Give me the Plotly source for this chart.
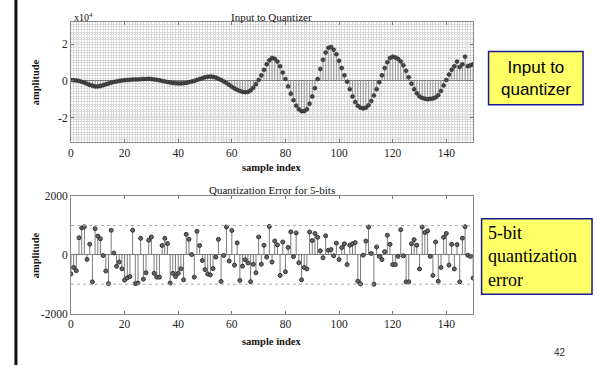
import plotly.graph_objects as go

# ---------------- data ----------------
sample_index = list(range(151))

# Input to quantizer (units of 1e4)
input_signal = [
    0.05, 0.04, 0.02, 0.00, -0.05, -0.10, -0.16, -0.22, -0.27, -0.30,
    -0.30, -0.28, -0.24, -0.19, -0.14, -0.10, -0.06, -0.03, 0.00, 0.02,
    0.04, 0.05, 0.06, 0.07, 0.08, 0.08, 0.09, 0.10, 0.10, 0.11,
    0.10, 0.08, 0.06, 0.03, 0.00, -0.03, -0.06, -0.09, -0.11, -0.13,
    -0.14, -0.14, -0.13, -0.11, -0.08, -0.04, 0.00, 0.05, 0.10, 0.15,
    0.20, 0.23, 0.24, 0.22, 0.18, 0.12, 0.05, -0.03, -0.12, -0.22,
    -0.32, -0.41, -0.49, -0.55, -0.60, -0.62, -0.60, -0.52, -0.38, -0.18,
    0.05, 0.30, 0.60, 0.90, 1.12, 1.25, 1.20, 1.05, 0.80, 0.45,
    0.10, -0.30, -0.70, -1.05, -1.35, -1.55, -1.65, -1.65, -1.55, -1.25,
    -0.85, -0.40, 0.10, 0.65, 1.15, 1.55, 1.80, 1.85, 1.70, 1.45,
    1.10, 0.70, 0.30, -0.05, -0.45, -0.85, -1.15, -1.36, -1.46, -1.50,
    -1.46, -1.33, -1.10, -0.80, -0.45, -0.08, 0.30, 0.70, 1.02, 1.25,
    1.32, 1.28, 1.20, 1.06, 0.85, 0.55, 0.20, -0.15, -0.45, -0.68,
    -0.85, -0.93, -0.97, -1.00, -0.98, -0.96, -0.90, -0.78, -0.55, -0.25,
    0.05, 0.35, 0.60, 0.80, 1.05, 0.75, 0.90, 1.32, 0.80, 0.85,
    0.90,
]

# Quantization error for 5 bits
quant_error = [
    -650, -430, -540, 585, 920, 960, -155, 365, -920, 895,
    640, 550, -20, -550, -980, 840, 65, -390, -245, -475,
    -860, -785, -740, 840, -980, -960, 565, -830, -610, 500,
    610, -630, -760, -760, 320, 565, 385, -960, -630, -740,
    -630, -475, -850, 700, 530, 10, -760, 805, 320, -190,
    -500, -650, -685, -465, -75, 530, -905, -20, 950, -210,
    830, -350, 410, -870, -385, -165, -275, -915, -320, -610,
    610, -320, 330, -75, 970, -245, 475, 340, -700, 440,
    -575, 255, 785, -55, 750, -270, -850, -430, -480, 780,
    490, 730, 600, 140, -100, 650, 160, 180, -30, 400,
    -160, 250, 380, -330, 330, 380, 420, -900, -990, -10,
    470, 950, 50, -1000, 270, -50, -160, 110, 670, 360,
    -330, -330, -50, 860, -30, -920, -920, 380, 520, 330,
    -480, 950, 760, 820, -50, -700, 440, -900, -430, 600,
    730, -350, 360, -480, 350, -920, 570, 960, -10, -50,
    -790,
]

x_ticks = [0, 20, 40, 60, 80, 100, 120, 140]
top_y_ticks = [-2, 0, 2]
top_y_labels = ["-2", "0", "2"]
bot_y_ticks = [-2000, 0, 2000]
bot_y_labels = ["-2000", "0", "2000"]

# ---------------- figure ----------------
W, H = 597, 365
SERIF = "Liberation Serif"


def stems(xs, ys):
    sx, sy = [], []
    for a, b in zip(xs, ys):
        sx += [a, a, None]
        sy += [0, b, None]
    return sx, sy


fig = go.Figure()

sx, sy = stems(sample_index, input_signal)
fig.add_trace(go.Scatter(x=sx, y=sy, mode="lines", line=dict(color="#9a9a9a", width=1),
                         xaxis="x", yaxis="y", hoverinfo="skip"))
fig.add_trace(go.Scatter(x=sample_index, y=input_signal, mode="markers",
                         marker=dict(size=4, color="#444", line=dict(color="#222", width=0.5)),
                         xaxis="x", yaxis="y"))

sx2, sy2 = stems(sample_index, quant_error)
fig.add_trace(go.Scatter(x=sx2, y=sy2, mode="lines", line=dict(color="#7a7a7a", width=1),
                         xaxis="x2", yaxis="y2", hoverinfo="skip"))
fig.add_trace(go.Scatter(x=sample_index, y=quant_error, mode="markers",
                         marker=dict(size=4, color="#666", line=dict(color="#333", width=1)),
                         xaxis="x2", yaxis="y2"))

xdom = [68.3 / W, 472.5 / W]
top_dom = [1 - 141 / H, 1 - 16.7 / H]
bot_dom = [1 - 318 / H, 1 - 196.7 / H]

tickfont = dict(family=SERIF, size=11.5, color="#222")
common_x = dict(domain=xdom, range=[0, 150], tickvals=x_ticks, ticks="inside", ticklen=3,
                tickcolor="#777", showline=True, linecolor="#888", linewidth=1, mirror="ticks",
                tickfont=tickfont, zeroline=False, fixedrange=True)

fig.update_layout(
    width=W, height=H, margin=dict(l=0, r=0, t=0, b=0),
    paper_bgcolor="white", plot_bgcolor="white", showlegend=False,
    xaxis=dict(**common_x, anchor="y", showgrid=True, gridcolor="#dadada", gridwidth=1,
               minor=dict(dtick=1, tick0=0, showgrid=True, gridcolor="#dadada", gridwidth=1)),
    yaxis=dict(domain=top_dom, range=[-3.35, 3.2], tickvals=top_y_ticks, ticktext=top_y_labels,
               ticks="inside", ticklen=3, tickcolor="#777", showline=True, linecolor="#888",
               mirror="ticks", tickfont=tickfont, anchor="x",
               showgrid=True, gridcolor="#dadada",
               minor=dict(dtick=0.14, tick0=0, showgrid=True, gridcolor="#dadada", gridwidth=1),
               zeroline=True, zerolinecolor="#777", zerolinewidth=1, fixedrange=True),
    xaxis2=dict(**common_x, anchor="y2", showgrid=False),
    yaxis2=dict(domain=bot_dom, range=[-2000, 2000], tickvals=bot_y_ticks, ticktext=bot_y_labels,
                ticks="inside", ticklen=3, tickcolor="#777", showline=True, linecolor="#888",
                mirror="ticks", tickfont=tickfont, anchor="x2", showgrid=False,
                zeroline=True, zerolinecolor="#777", zerolinewidth=1, fixedrange=True),
)

# dotted +-1000 reference lines in the error plot
for lvl in (-1000, 1000):
    fig.add_shape(type="line", xref="x2", yref="y2", x0=0, x1=150, y0=lvl, y1=lvl,
                  line=dict(color="#aaaaaa", width=1, dash="dot"))

# left black bar of the slide
fig.add_shape(type="rect", xref="paper", yref="paper", x0=11.5 / W, x1=14.5 / W,
              y0=-0.05, y1=1.05, fillcolor="#111", line=dict(width=0))

# yellow callout boxes
fig.add_shape(type="rect", xref="paper", yref="paper", x0=488 / W, x1=583 / W,
              y0=1 - 102 / H, y1=1 - 47 / H, fillcolor="#ffff66",
              line=dict(color="#1a1a99", width=1.5))
fig.add_shape(type="rect", xref="paper", yref="paper", x0=481 / W, x1=592 / W,
              y0=1 - 298 / H, y1=1 - 220 / H, fillcolor="#ffff66",
              line=dict(color="#1a1a99", width=1.5))


def ann(text, x, y, size=11, family=SERIF, color="#111", angle=0, xanchor="center",
        yanchor="middle", align="center"):
    fig.add_annotation(text=text, x=x / W, y=1 - y / H, xref="paper", yref="paper",
                       showarrow=False, font=dict(family=family, size=size, color=color),
                       textangle=angle, xanchor=xanchor, yanchor=yanchor, align=align)


ann("Input to Quantizer", 270, 11)
ann("Quantization Error for 5-bits", 270, 190.5)
ann("<b>sample index</b>", 270, 166.5, size=10.5)
ann("<b>sample index</b>", 270, 347, size=10.5)
ann("<b>amplitude</b>", 33, 79, angle=-90, size=10.5)
ann("<b>amplitude</b>", 33, 258, angle=-90, size=10.5)
ann("x10<sup>4</sup>", 69, 11, size=10, xanchor="left")

ann("Input to<br>quantizer", 535.5, 74.5, size=17, family="Liberation Sans", color="#000")
ann("5-bit<br>quantization<br>error", 485, 259, size=18, family=SERIF, color="#000",
    xanchor="left", align="left")
ann("42", 560, 358, size=10, family="Liberation Sans", color="#333")

fig.write_html("out.html")
